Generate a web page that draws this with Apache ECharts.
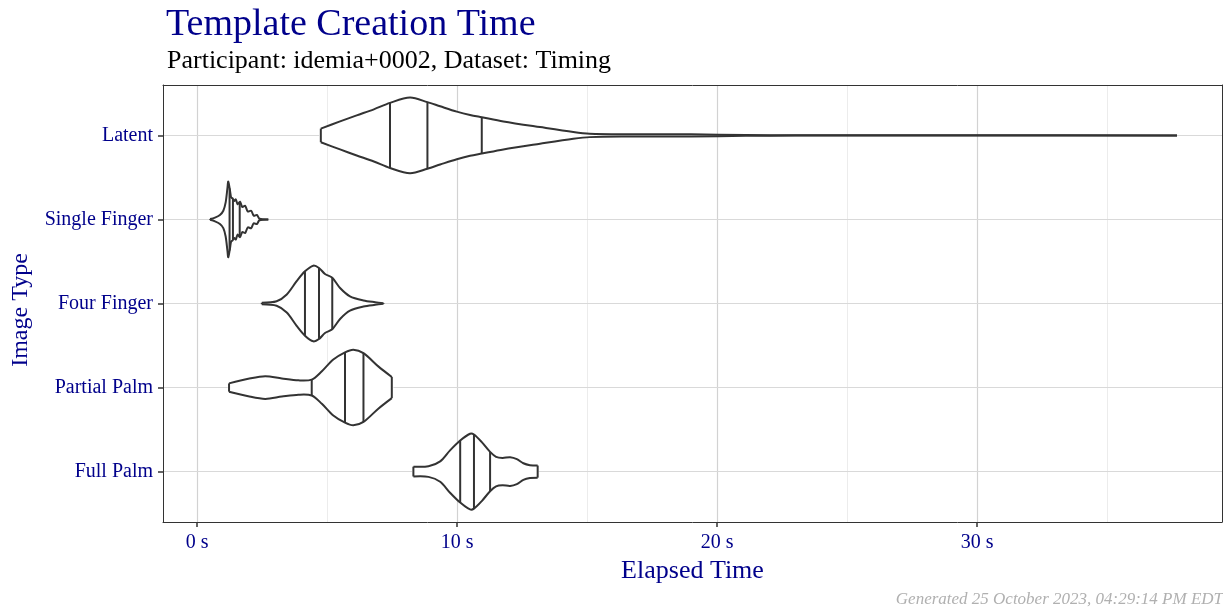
<!DOCTYPE html>
<html>
<head>
<meta charset="utf-8">
<title>Template Creation Time</title>
<script src="https://cdn.jsdelivr.net/npm/echarts@6/dist/echarts.min.js"></script>
<style>
  html, body { margin: 0; padding: 0; background: #fff; }
  #chart { width: 1223px; height: 609px; }
</style>
</head>
<body>
<div id="chart"></div>
<script>
// image types, top to bottom
var categories = ['Latent', 'Single Finger', 'Four Finger', 'Partial Palm', 'Full Palm']

// violin outlines: [elapsed seconds, relative width 0..1]
var latentDensity = [
  [4.76, 0.18], [5.5, 0.37], [6.14, 0.53], [6.8, 0.69], [7.42, 0.86], [8.19, 1.0],
  [8.86, 0.88], [9.35, 0.77], [9.99, 0.63], [10.5, 0.54], [10.95, 0.48], [11.78, 0.37],
  [13.19, 0.22], [14.47, 0.09], [15.1, 0.045], [16.4, 0.03], [19.0, 0.03], [21.1, 0.01],
  [23.0, 0.004], [30.0, 0.003], [37.69, 0.0]
]
var singleFingerDensity = [
  [0.5, 0.01], [0.69, 0.05], [0.88, 0.12], [1.01, 0.23], [1.1, 0.45], [1.17, 0.84],
  [1.2, 1.0], [1.27, 0.75], [1.31, 0.58], [1.36, 0.56], [1.43, 0.49], [1.49, 0.53],
  [1.56, 0.4], [1.65, 0.47], [1.74, 0.33], [1.85, 0.36], [1.95, 0.21], [2.08, 0.23],
  [2.18, 0.1], [2.3, 0.12], [2.4, 0.02], [2.74, 0.0]
]
var fourFingerDensity = [
  [2.49, 0.02], [3.06, 0.06], [3.45, 0.24], [3.83, 0.59], [4.15, 0.85], [4.47, 1.0],
  [4.69, 0.94], [4.92, 0.78], [5.2, 0.68], [5.5, 0.41], [5.88, 0.19], [6.4, 0.08],
  [6.85, 0.035], [7.17, 0.01]
]
var partialPalmDensity = [
  [1.23, 0.11], [1.97, 0.23], [2.62, 0.3], [3.26, 0.24], [3.9, 0.19], [4.41, 0.21],
  [4.8, 0.43], [5.24, 0.74], [5.69, 0.93], [6.01, 1.0], [6.4, 0.91], [6.97, 0.56],
  [7.49, 0.28]
]
var fullPalmDensity = [
  [8.32, 0.13], [8.9, 0.14], [9.35, 0.27], [9.73, 0.56], [10.12, 0.82], [10.5, 1.0],
  [10.65, 0.98], [10.95, 0.78], [11.27, 0.52], [11.5, 0.39], [11.75, 0.36], [12.04, 0.38],
  [12.3, 0.33], [12.55, 0.22], [12.8, 0.17], [13.1, 0.16]
]

// 25%, 50%, 75% lines
var latentQuartiles = [7.42, 8.86, 10.95]
var singleFingerQuartiles = [1.25, 1.38, 1.64]
var fourFingerQuartiles = [4.15, 4.69, 5.2]
var partialPalmQuartiles = [4.41, 5.69, 6.4]
var fullPalmQuartiles = [10.12, 10.65, 11.27]

var xTicks = [0, 10, 20, 30]
var xMinorTicks = [5, 15, 25, 35]
var yTicks = [0, 1, 2, 3, 4]

var densities = [latentDensity, singleFingerDensity, fourFingerDensity, partialPalmDensity, fullPalmDensity]
var quartiles = [latentQuartiles, singleFingerQuartiles, fourFingerQuartiles, partialPalmQuartiles, fullPalmQuartiles]

var FONT = 'Liberation Serif'
var BLUE = '#00008B'
var INK = '#333333'
var HALF = 0.45 // half of the violin's max width, in category units
var X_MIN = -1.31
var X_MAX = 39.42

function widthAt (dens, x) {
  for (var i = 1; i < dens.length; i++) {
    if (x <= dens[i][0]) {
      var a = dens[i - 1]
      var b = dens[i]
      return a[1] + (b[1] - a[1]) * (x - a[0]) / (b[0] - a[0])
    }
  }
  return dens[dens.length - 1][1]
}

function renderViolin (params, api) {
  var idx = api.value(0)
  var dens = densities[idx]
  var top = dens.map(function (p) { return api.coord([p[0], idx - p[1] * HALF]) })
  var bottom = dens.map(function (p) { return api.coord([p[0], idx + p[1] * HALF]) })
  var lineStyle = { stroke: INK, lineWidth: 2, fill: null, lineJoin: 'round' }
  var last = top.length - 1
  var children = [
    {
      type: 'polygon',
      shape: { points: top.concat(bottom.slice().reverse()), smooth: 0.3 },
      style: { fill: '#fff', stroke: null }
    },
    { type: 'polyline', shape: { points: top, smooth: 0.3 }, style: lineStyle },
    { type: 'polyline', shape: { points: bottom, smooth: 0.3 }, style: lineStyle },
    { type: 'line', shape: { x1: top[0][0], y1: top[0][1], x2: bottom[0][0], y2: bottom[0][1] }, style: lineStyle },
    { type: 'line', shape: { x1: top[last][0], y1: top[last][1], x2: bottom[last][0], y2: bottom[last][1] }, style: lineStyle }
  ]
  quartiles[idx].forEach(function (q) {
    var w = widthAt(dens, q) * HALF
    var p1 = api.coord([q, idx - w])
    var p2 = api.coord([q, idx + w])
    children.push({ type: 'line', shape: { x1: p1[0], y1: p1[1], x2: p2[0], y2: p2[1] }, style: lineStyle })
  })
  return { type: 'group', children: children }
}

// plain frame line for the top / right edges of the panel
var frameLine = { show: true, onZero: false, lineStyle: { color: INK, width: 1 } }

var myChart = echarts.init(document.getElementById('chart'))
myChart.setOption({
  animation: false,
  backgroundColor: '#fff',
  title: [
    {
      text: 'Template Creation Time',
      left: 161,
      top: 1,
      textStyle: { fontFamily: FONT, fontSize: 38, fontWeight: 'normal', color: BLUE }
    },
    {
      text: 'Participant: idemia+0002, Dataset: Timing',
      left: 162,
      top: 43,
      textStyle: { fontFamily: FONT, fontSize: 26, fontWeight: 'normal', color: '#000' }
    },
    {
      text: 'Generated 25 October 2023, 04:29:14 PM EDT',
      right: 0,
      bottom: 1,
      padding: 0,
      textStyle: { fontFamily: FONT, fontSize: 17, fontStyle: 'italic', fontWeight: 'normal', color: '#b0b0b0' }
    }
  ],
  graphic: [
    {
      type: 'text',
      x: 21,
      y: 310,
      rotation: Math.PI / 2,
      style: { text: 'Image Type', fontFamily: FONT, fontSize: 24, fill: BLUE, align: 'center', verticalAlign: 'middle' }
    }
  ],
  grid: {
    left: 163,
    right: 1,
    top: 85,
    bottom: 87
  },
  xAxis: [
    {
      // major ticks, labels, grid every 10 s
      type: 'value',
      min: X_MIN,
      max: X_MAX,
      z: 2,
      name: 'Elapsed Time',
      nameLocation: 'middle',
      nameGap: 32,
      nameTextStyle: { fontFamily: FONT, fontSize: 26, color: BLUE },
      axisLine: { show: true, onZero: false, lineStyle: { color: INK, width: 1 } },
      axisTick: { show: true, length: 5, customValues: xTicks, lineStyle: { color: INK, width: 1.5 } },
      axisLabel: {
        customValues: xTicks,
        margin: 11,
        fontFamily: FONT,
        fontSize: 20,
        color: BLUE,
        formatter: function (v) { return v + ' s' }
      },
      splitLine: { show: true, lineStyle: { color: '#d2d2d2', width: 1.2 } }
    },
    {
      // minor grid every 5 s
      type: 'value',
      min: X_MIN,
      max: X_MAX,
      z: 1,
      position: 'bottom',
      axisLine: { show: false, onZero: false },
      axisTick: { show: false, customValues: xMinorTicks },
      axisLabel: { show: false, customValues: xMinorTicks },
      splitLine: { show: true, lineStyle: { color: '#ececec', width: 1 } }
    },
    {
      // top edge of the panel
      type: 'value',
      min: X_MIN,
      max: X_MAX,
      position: 'top',
      z: 3,
      axisLine: frameLine,
      axisTick: { show: false },
      axisLabel: { show: false },
      splitLine: { show: false }
    }
  ],
  yAxis: [
    {
      type: 'value',
      min: -0.6,
      max: 4.6,
      inverse: true,
      z: 3,
      axisLine: { show: true, onZero: false, lineStyle: { color: INK, width: 1 } },
      axisTick: { show: true, length: 5, customValues: yTicks, lineStyle: { color: INK, width: 1.5 } },
      axisLabel: {
        customValues: yTicks,
        margin: 10,
        fontFamily: FONT,
        fontSize: 20,
        color: BLUE,
        formatter: function (v) { return categories[v] }
      },
      splitLine: { show: true, lineStyle: { color: '#d9d9d9', width: 1.2 } }
    },
    {
      // right edge of the panel
      type: 'value',
      min: -0.6,
      max: 4.6,
      inverse: true,
      position: 'right',
      z: 3,
      axisLine: frameLine,
      axisTick: { show: false },
      axisLabel: { show: false },
      splitLine: { show: false }
    }
  ],
  series: [
    {
      type: 'custom',
      xAxisIndex: 0,
      yAxisIndex: 0,
      renderItem: renderViolin,
      data: categories.map(function (c, i) { return [i] }),
      silent: true,
      z: 5
    }
  ]
})
</script>
</body>
</html>
